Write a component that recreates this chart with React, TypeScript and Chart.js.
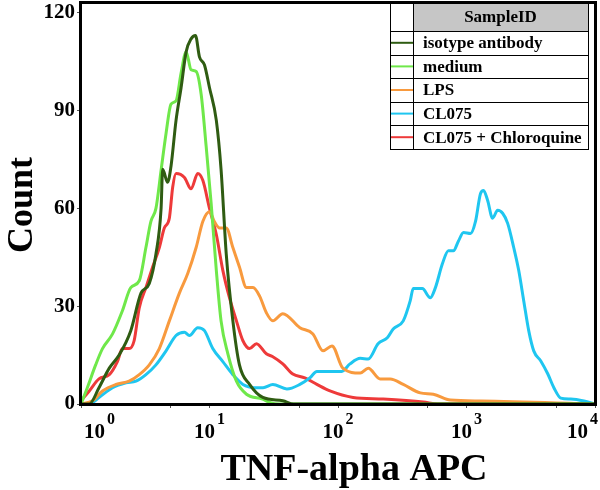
import React, { useEffect, useRef } from "react";
import { Chart, registerables } from "chart.js";

Chart.register(...registerables);

const FONT = '"Liberation Serif", "Times New Roman", serif';

const seriesNames = ["isotype antibody", "medium", "LPS", "CL075", "CL075 + Chloroquine"];
const seriesColors = ["#2f5c12", "#6fe84a", "#f89a3e", "#1fc6f0", "#ee3a3a"];

const isotypeX = [1.0, 1.16, 1.38, 1.66, 1.98, 2.44, 2.93, 3.4, 3.83, 4.2, 4.32, 4.72, 5.02, 5.49, 6.01, 6.58, 7.19, 7.78, 8.35, 9.14, 10.0, 11.3, 12.3, 13.5, 15.2, 17.1, 20.5, 26.0, 37.2, 45, 10000];
const isotypeY = [0, 0, 5, 11, 15, 22.5, 34, 37, 46, 60, 72, 68, 73, 87, 97, 108, 112, 113, 106.5, 104, 97, 87, 72, 46, 25.5, 12, 6, 2, 1, 0, 0];

const mediumX = [1.0, 1.12, 1.3, 1.47, 1.76, 2.1, 2.44, 2.84, 3.2, 3.5, 3.83, 4.2, 4.59, 5.02, 5.49, 6.01, 6.58, 7.19, 7.87, 8.61, 9.42, 10.3, 11.3, 12.3, 13.9, 16.2, 19.4, 25.9, 29.4, 35, 10000];
const mediumY = [0, 5, 12, 17, 21.5, 28.6, 35.7, 37.8, 48, 56, 60, 71.7, 83, 92, 93, 101.5, 108, 102.5, 102, 95, 79, 61.5, 41, 25.5, 15.4, 7, 3, 1.5, 0.5, 0, 0];

const lpsX = [1.0, 1.23, 1.47, 1.87, 2.37, 2.84, 3.4, 4.07, 4.87, 5.83, 6.77, 7.87, 8.87, 10.0, 10.9, 12.0, 13.5, 15.2, 17.1, 19.4, 21.8, 24.6, 27.7, 31.1, 37.2, 50.5, 63.8, 76.4, 89.8, 109, 149, 172, 213, 255, 322, 437, 552, 750, 1300, 10000];
const lpsY = [0, 1, 4, 6, 7, 9, 12, 17, 25.5, 34, 40, 48, 56, 59, 56, 54, 54, 48, 42, 35.7, 35.7, 33, 28, 25.5, 27.7, 23.4, 21.5, 16.3, 17.8, 11, 9.5, 11, 7.7, 7.7, 6, 3.4, 3, 1.2, 0.9, 0];

const cl075X = [1.0, 1.16, 1.38, 1.76, 2.24, 2.68, 3.2, 3.83, 4.59, 5.49, 6.38, 6.98, 8.1, 9.14, 10.6, 12.7, 15.2, 18.2, 22.5, 26.1, 31.1, 40.0, 50.5, 60.4, 68.5, 82.0, 107, 124, 149, 172, 205, 242, 269, 322, 365, 385, 453, 523, 573, 649, 723, 791, 866, 948, 1075, 1175, 1286, 1358, 1459, 1596, 1746, 1911, 2091, 2330, 2548, 2787, 3049, 3336, 3786, 4295, 4786, 5420, 6494, 8204, 10000];
const cl075Y = [0, 0, 2, 5, 6.5, 7, 9, 12, 16.3, 21, 22, 21, 23.4, 22.5, 17, 13, 9, 6, 5, 5, 6, 4.6, 6, 8, 10, 10, 10, 12.3, 14, 13.8, 18.5, 20.3, 23, 25.5, 31.7, 35.4, 35.4, 32.6, 35.7, 43, 47, 47, 50, 52.6, 52.3, 56, 64.6, 65.5, 62.5, 57, 59.4, 58.5, 55.4, 48, 41, 31.7, 22.5, 16.3, 13.2, 9.2, 5, 1.8, 1.5, 0.9, 0];

const chloroX = [1.0, 1.16, 1.38, 1.66, 1.92, 2.1, 2.37, 2.59, 2.84, 3.2, 3.61, 4.07, 4.45, 4.87, 5.17, 5.49, 6.38, 7.19, 8.1, 8.87, 10.0, 11.3, 12.7, 14.3, 16.2, 18.2, 20.5, 23.2, 27.7, 31.1, 37.2, 44.5, 55.2, 68.5, 86.6, 131, 225, 461, 600, 10000];
const chloroY = [1, 4, 7.7, 9, 13, 17, 17, 19.4, 29.5, 35.7, 42, 48, 54, 57, 66.5, 70.7, 69.5, 66, 70.7, 68.6, 60, 52, 41, 32.6, 25.5, 19.4, 17, 18.5, 15.4, 14.5, 12.3, 9.2, 8, 6, 4, 2, 1.5, 0.6, 0, 0];

const seriesX = [isotypeX, mediumX, lpsX, cl075X, chloroX];
const seriesY = [isotypeY, mediumY, lpsY, cl075Y, chloroY];

const yTickValues = [0, 30, 60, 90, 120];
const xMajorValues = [1, 10, 100, 1000, 10000];
const xExponents = ["0", "1", "2", "3", "4"];
const xMinorValues = [5, 50, 500, 5000];

const xTitle = "TNF-alpha APC";
const yTitle = "Count";
const legendHeader = "SampleID";

const decorPlugin = {
  id: "decor",
  afterDatasetsDraw(chart: any) {
    const ctx = chart.ctx;
    const ca = chart.chartArea;
    ctx.save();
    // legend table
    const L = 390, R = 588, T = 3, H0 = 31, rowH = 23.6, divX = 413;
    const B = H0 + rowH * seriesNames.length;
    ctx.fillStyle = "#ffffff";
    ctx.fillRect(L, T, R - L, B - T);
    ctx.fillStyle = "#c6c6c6";
    ctx.fillRect(divX, T, R - divX, H0 - T);
    ctx.strokeStyle = "#000";
    ctx.lineWidth = 1;
    ctx.beginPath();
    ctx.moveTo(L + 0.5, T); ctx.lineTo(L + 0.5, B);
    ctx.moveTo(R + 0.5, T); ctx.lineTo(R + 0.5, B);
    ctx.moveTo(divX + 0.5, T); ctx.lineTo(divX + 0.5, B);
    for (let i = 0; i <= seriesNames.length; i++) {
      const yy = Math.round(H0 + rowH * i) + 0.5;
      ctx.moveTo(L, yy); ctx.lineTo(R + 1, yy);
    }
    ctx.stroke();
    ctx.fillStyle = "#000";
    ctx.font = `bold 17px ${FONT}`;
    ctx.textBaseline = "middle";
    ctx.textAlign = "center";
    ctx.fillText(legendHeader, (divX + R) / 2, (T + H0) / 2 + 1);
    ctx.textAlign = "left";
    seriesNames.forEach((name, i) => {
      const yMid = H0 + rowH * i + rowH / 2;
      ctx.strokeStyle = seriesColors[i];
      ctx.lineWidth = 2;
      ctx.beginPath();
      ctx.moveTo(L + 1, yMid);
      ctx.lineTo(divX, yMid);
      ctx.stroke();
      ctx.fillStyle = "#000";
      ctx.fillText(name, divX + 10, yMid + 1);
    });
    // frame
    ctx.strokeStyle = "#000";
    ctx.lineWidth = 3;
    ctx.strokeRect(ca.left - 0.5, ca.top - 0.5, ca.right - ca.left + 1, ca.bottom - ca.top + 1);
    ctx.restore();
  },
  afterDraw(chart: any) {
    const ctx = chart.ctx;
    const xs = chart.scales.x;
    ctx.save();
    ctx.fillStyle = "#000";
    // x tick labels with superscript exponents
    xMajorValues.forEach((v, i) => {
      const px = xs.getPixelForValue(v);
      ctx.font = `bold 21px ${FONT}`;
      const wBase = ctx.measureText("10").width;
      ctx.font = `bold 16px ${FONT}`;
      const wSup = ctx.measureText(xExponents[i]).width;
      const total = wBase + 2 + wSup;
      let start = px - total / 2;
      if (i === 0) start = px + 3;
      if (i === xMajorValues.length - 1) start = px + 3 - total;
      ctx.textAlign = "left";
      ctx.textBaseline = "alphabetic";
      ctx.font = `bold 21px ${FONT}`;
      ctx.fillText("10", start, 438);
      ctx.font = `bold 16px ${FONT}`;
      ctx.fillText(xExponents[i], start + wBase + 2, 424);
    });
    // axis titles
    ctx.font = `bold 38px ${FONT}`;
    ctx.textAlign = "center";
    ctx.textBaseline = "alphabetic";
    ctx.fillText(xTitle, 354, 480);
    ctx.translate(32, 205);
    ctx.rotate(-Math.PI / 2);
    ctx.font = `bold 36px ${FONT}`;
    ctx.fillText(yTitle, 0, 0);
    ctx.restore();
  },
};

export default function App() {
  const ref = useRef<HTMLCanvasElement | null>(null);
  useEffect(() => {
    document.body.style.margin = "0";
    const canvas = ref.current;
    if (!canvas) return;
    const datasets = seriesNames.map((name, i) => ({
      label: name,
      data: seriesX[i].map((x, j) => ({ x, y: seriesY[i][j] })),
      borderColor: seriesColors[i],
      backgroundColor: seriesColors[i],
      borderWidth: 3,
      pointRadius: 0,
      cubicInterpolationMode: "monotone",
      fill: false,
    }));
    const chart = new Chart(canvas, {
      type: "line",
      data: { datasets },
      options: {
        animation: false,
        responsive: false,
        devicePixelRatio: 1,
        layout: { padding: { top: 3, right: 5, left: 0, bottom: 0 } },
        plugins: { legend: { display: false }, tooltip: { enabled: false } },
        scales: {
          x: {
            type: "logarithmic",
            min: 1,
            max: 10000,
            afterBuildTicks: (scale: any) => {
              scale.ticks = [...xMajorValues, ...xMinorValues].sort((a, b) => a - b).map((v) => ({ value: v }));
            },
            afterFit: (scale: any) => {
              scale.height = 86;
              scale.paddingLeft = 0;
              scale.paddingRight = 0;
              scale.paddingTop = 0;
              scale.paddingBottom = 0;
            },
            ticks: { display: false },
            grid: { drawOnChartArea: false, drawTicks: true, tickLength: 4, color: "#555", lineWidth: 1 },
            border: { display: false },
          },
          y: {
            type: "linear",
            min: 0,
            max: 123,
            afterBuildTicks: (scale: any) => {
              scale.ticks = yTickValues.map((v) => ({ value: v }));
            },
            afterFit: (scale: any) => {
              scale.width = 81;
              scale.paddingTop = 0;
              scale.paddingBottom = 0;
              scale.paddingLeft = 0;
              scale.paddingRight = 0;
            },
            ticks: {
              padding: 2,
              color: "#000",
              font: { family: FONT, size: 21, weight: "bold" },
            },
            grid: { drawOnChartArea: false, drawTicks: true, tickLength: 4, color: "#555", lineWidth: 1 },
            border: { display: false },
          },
        },
      },
      plugins: [decorPlugin],
    } as any);
    return () => chart.destroy();
  }, []);
  return (
    <div style={{ width: 600, height: 490 }}>
      <canvas ref={ref} width={600} height={490} style={{ display: "block", background: "#fff" }} />
    </div>
  );
}
